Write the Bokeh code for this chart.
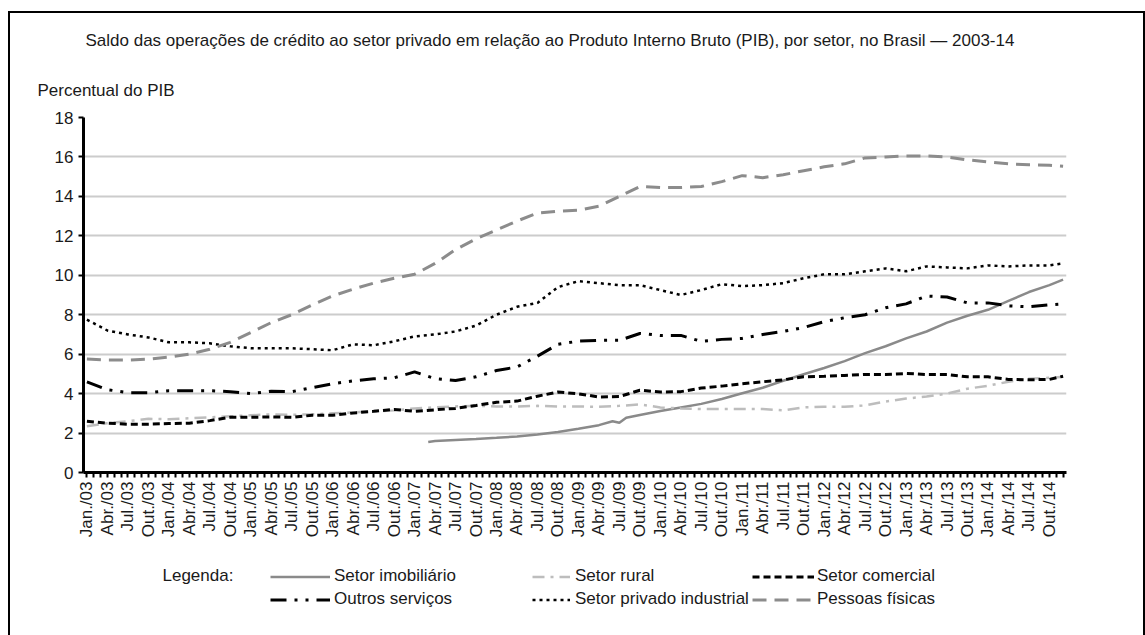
import math
from bokeh.plotting import figure
from bokeh.layouts import column
from bokeh.models import Legend, LegendItem, Label, FixedTicker, Title, Range1d
from bokeh.embed import file_html
from bokeh.resources import INLINE

# ---------------- data ----------------
meses_abrev = ["Jan.", "Abr.", "Jul.", "Out."]
anos = ["03", "04", "05", "06", "07", "08", "09", "10", "11", "12", "13", "14"]
rotulos = [f"{m}/{a}" for a in anos for m in meses_abrev]  # quarterly tick labels

# month index (0 = Jan/2003) of the sampled points
meses = [0, 3, 6, 9, 12, 15, 18, 21, 24, 27, 30, 33, 36, 39, 42, 45, 48, 51, 54, 57,
         60, 63, 66, 69, 72, 75, 78, 81, 84, 87, 90, 93, 96, 99, 102, 105, 108, 111,
         114, 117, 120, 123, 126, 129, 132, 135, 138, 141, 143]

pessoas_fisicas = [5.75, 5.7, 5.7, 5.75, 5.85, 6.0, 6.25, 6.6, 7.1, 7.6, 8.0, 8.5, 8.95,
                   9.3, 9.6, 9.85, 10.05, 10.6, 11.3, 11.85, 12.3, 12.75, 13.15, 13.25,
                   13.3, 13.5, 14.0, 14.5, 14.45, 14.45, 14.5, 14.75, 15.05, 14.95, 15.1,
                   15.3, 15.5, 15.65, 15.95, 16.0, 16.05, 16.05, 16.0, 15.85, 15.75,
                   15.65, 15.6, 15.58, 15.53]
privado_industrial = [7.75, 7.2, 7.0, 6.85, 6.6, 6.6, 6.55, 6.4, 6.3, 6.3, 6.3, 6.25, 6.2,
                      6.5, 6.45, 6.65, 6.9, 7.0, 7.15, 7.45, 8.0, 8.4, 8.6, 9.4, 9.7, 9.6,
                      9.5, 9.5, 9.25, 9.0, 9.25, 9.55, 9.45, 9.5, 9.6, 9.85, 10.05, 10.05,
                      10.2, 10.35, 10.2, 10.45, 10.4, 10.35, 10.5, 10.45, 10.5, 10.5, 10.6]
outros_servicos = [4.6, 4.2, 4.05, 4.05, 4.15, 4.15, 4.15, 4.1, 4.0, 4.12, 4.1, 4.3, 4.5,
                   4.65, 4.75, 4.8, 5.1, 4.76, 4.66, 4.85, 5.17, 5.35, 5.9, 6.5, 6.66,
                   6.7, 6.7, 7.05, 6.95, 6.95, 6.65, 6.75, 6.8, 7.0, 7.15, 7.35, 7.65,
                   7.85, 8.0, 8.35, 8.55, 8.95, 8.9, 8.6, 8.6, 8.45, 8.4, 8.5, 8.55]
setor_comercial = [2.6, 2.5, 2.45, 2.45, 2.48, 2.5, 2.63, 2.8, 2.8, 2.82, 2.8, 2.9, 2.9,
                   3.02, 3.1, 3.2, 3.1, 3.18, 3.25, 3.4, 3.56, 3.62, 3.87, 4.08, 3.99,
                   3.83, 3.85, 4.17, 4.08, 4.1, 4.28, 4.38, 4.5, 4.6, 4.7, 4.85, 4.88,
                   4.92, 4.97, 4.97, 5.02, 4.97, 4.97, 4.85, 4.85, 4.72, 4.7, 4.72, 4.88]
setor_rural = [2.35, 2.5, 2.6, 2.72, 2.7, 2.75, 2.8, 2.85, 2.9, 2.95, 2.92, 2.95, 3.0,
               3.05, 3.1, 3.15, 3.25, 3.3, 3.35, 3.38, 3.35, 3.35, 3.38, 3.35, 3.35,
               3.33, 3.38, 3.45, 3.3, 3.25, 3.22, 3.22, 3.22, 3.22, 3.15, 3.3, 3.33,
               3.33, 3.4, 3.6, 3.75, 3.85, 4.0, 4.25, 4.4, 4.6, 4.75, 4.8, 4.85]

meses_imob = [50, 51, 54, 57, 60, 63, 66, 69, 72, 75, 77, 78, 79, 81, 84, 87, 90, 93, 96,
              99, 102, 105, 108, 111, 114, 117, 120, 123, 126, 129, 132, 135, 138, 141, 143]
setor_imobiliario = [1.55, 1.6, 1.65, 1.7, 1.76, 1.83, 1.93, 2.05, 2.22, 2.4, 2.6, 2.52,
                     2.78, 2.92, 3.12, 3.3, 3.48, 3.73, 4.02, 4.3, 4.65, 4.98, 5.3, 5.65,
                     6.05, 6.4, 6.8, 7.15, 7.6, 7.95, 8.25, 8.7, 9.15, 9.5, 9.78]

titulo = ("Saldo das operações de crédito ao setor privado em relação ao Produto Interno "
          "Bruto (PIB), por setor, no Brasil — 2003-14")
eixo_y = "Percentual do PIB"

# ---------------- styles ----------------
FONT = "Liberation Sans"
TXT = "#1a1a1a"
FS = "17px"
estilos = {
    "imob": dict(line_color="#8a8a8a", line_width=2.5),
    "rural": dict(line_color="#bdbdbd", line_width=2.5, line_dash="12 6 3 6"),
    "com": dict(line_color="black", line_width=3, line_dash="7 4"),
    "out": dict(line_color="black", line_width=3, line_dash="16 8 3 8 3 8"),
    "ind": dict(line_color="black", line_width=2.5, line_dash="3 4"),
    "pes": dict(line_color="#8c8c8c", line_width=3, line_dash="14 8"),
}

W = 1133
H1 = 534
p = figure(width=W, height=H1, output_backend="svg", toolbar_location=None,
           x_range=(-0.5, 143.5), y_range=(0, 18),
           min_border_left=73, min_border_right=77, min_border_top=104,
           min_border_bottom=75)
p.outline_line_color = None
p.background_fill_color = "white"
p.border_fill_color = "white"

n_meses = 144
p.xaxis.ticker = FixedTicker(ticks=list(range(n_meses)))
p.xaxis.major_label_overrides = {i: (rotulos[i // 3] if i % 3 == 0 else "") for i in range(n_meses)}
p.xaxis.major_label_orientation = math.pi / 2
p.xaxis.major_label_standoff = 4
p.yaxis.ticker = FixedTicker(ticks=[0, 2, 4, 6, 8, 10, 12, 14, 16, 18])
for ax in (p.xaxis, p.yaxis):
    ax.major_label_text_font = FONT
    ax.major_label_text_font_size = FS
    ax.major_label_text_color = TXT
    ax.axis_line_width = 3
    ax.axis_line_color = "black"
    ax.major_tick_line_width = 2
    ax.major_tick_out = 5
    ax.major_tick_in = 0
    ax.minor_tick_line_color = None

p.xgrid.grid_line_color = None
p.ygrid.grid_line_color = "#cccccc"
p.ygrid.grid_line_width = 2

p.line(meses_imob, setor_imobiliario, **estilos["imob"])
p.line(meses, setor_rural, **estilos["rural"])
p.line(meses, setor_comercial, **estilos["com"])
p.line(meses, outros_servicos, **estilos["out"])
p.line(meses, privado_industrial, **estilos["ind"])
p.line(meses, pessoas_fisicas, **estilos["pes"])

# texts above the plot (first added sits closest to the frame)
p.add_layout(Title(text=eixo_y, align="left", offset=-46, standoff=35,
                   text_font=FONT, text_font_size=FS, text_font_style="normal",
                   text_color=TXT), "above")
p.add_layout(Title(text=titulo, align="left", offset=2, standoff=24,
                   text_font=FONT, text_font_size=FS, text_font_style="normal",
                   text_color=TXT), "above")

# ---------------- legend strip (its frame is aligned with the plot frame) ----------------
H2 = 88
FL, FR = 83, 1066          # page x of the aligned frame edges
TOP2 = 13 + H1             # page y of the strip's top
q = figure(width=W, height=H2, output_backend="svg", toolbar_location=None,
           x_range=Range1d(FL, FR), y_range=Range1d(TOP2 + H2, TOP2),
           min_border=0, min_border_left=0, min_border_right=0,
           min_border_top=0, min_border_bottom=0)
q.axis.visible = False
q.grid.visible = False
q.outline_line_color = None
q.background_fill_color = "white"
q.border_fill_color = "white"

nan = float("nan")
leg = {k: q.line([nan], [nan], **v) for k, v in estilos.items()}
q.add_layout(Label(x=162, y=575, text="Legenda:", text_font=FONT, text_font_size=FS,
                   text_color=TXT, text_baseline="middle", text_align="left"))


def make_legend(items, x_page, gw, standoff):
    lg = Legend(items=items, location=(x_page - FL, 26), orientation="vertical",
                glyph_width=gw, glyph_height=13, label_height=13, spacing=3,
                padding=0, margin=0, label_standoff=standoff,
                label_text_font=FONT, label_text_font_size=FS,
                label_text_color=TXT, label_text_baseline="middle",
                border_line_color=None, background_fill_alpha=0)
    q.add_layout(lg, "center")


make_legend([LegendItem(label="Setor imobiliário", renderers=[leg["imob"]]),
             LegendItem(label="Outros serviços", renderers=[leg["out"]])], 270, 60, 4)
make_legend([LegendItem(label="Setor rural", renderers=[leg["rural"]]),
             LegendItem(label="Setor privado industrial", renderers=[leg["ind"]])], 532, 38, 5)
make_legend([LegendItem(label="Setor comercial", renderers=[leg["com"]]),
             LegendItem(label="Pessoas físicas", renderers=[leg["pes"]])], 752, 62, 3)

root = column(p, q, spacing=0)
root.styles = {"margin-left": "8px", "margin-top": "11px",
               "border-left": "2px solid #000", "border-top": "2px solid #000",
               "border-right": "2px solid #000"}

open("out.html", "w").write(file_html(root, INLINE))
